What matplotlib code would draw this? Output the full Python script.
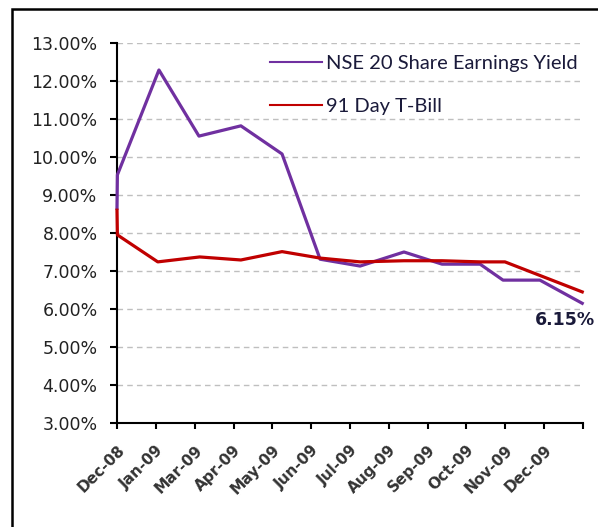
import matplotlib
matplotlib.use("Agg")
import matplotlib.pyplot as plt
from matplotlib.patches import Rectangle
from matplotlib.ticker import FuncFormatter

# positions on the time axis, in tick steps from Dec-08
nse_x = [0.0, 0.01, 1.08, 2.11, 3.19, 4.25, 5.23, 6.26, 7.39, 8.37, 9.35, 9.94, 10.89, 11.98]
nse_yield = [8.65, 9.53, 12.29, 10.55, 10.82, 10.08, 7.31, 7.13, 7.50, 7.18, 7.18, 6.76, 6.76, 6.15]

tbill_x = [0.0, 0.01, 1.05, 2.13, 3.19, 4.25, 5.23, 6.26, 7.39, 8.37, 9.35, 9.99, 11.98]
tbill_rate = [8.60, 7.95, 7.24, 7.37, 7.29, 7.51, 7.34, 7.24, 7.27, 7.27, 7.24, 7.24, 6.45]

month_labels = ["Dec-08", "Jan-09", "Mar-09", "Apr-09", "May-09", "Jun-09",
                "Jul-09", "Aug-09", "Sep-09", "Oct-09", "Nov-09", "Dec-09"]
y_ticks = list(range(3, 14))

purple = "#7030A0"
red = "#C00000"
W, H = 598, 527

fig = plt.figure(figsize=(W / 100, H / 100), dpi=100)
ax = fig.add_axes([117 / W, 1 - 423 / H, (583 - 117) / W, (423 - 43) / H])

ax.plot(nse_x, nse_yield, color=purple, lw=2.3, label="NSE 20 Share Earnings Yield", zorder=4, clip_on=False)
ax.plot(tbill_x, tbill_rate, color=red, lw=2.3, label="91 Day T-Bill", zorder=4, clip_on=False)

ax.set_xlim(0, 12)
ax.set_ylim(3, 13)
ax.set_yticks(y_ticks)
ax.yaxis.set_major_formatter(FuncFormatter(lambda v, p: "%.2f%%" % v))
ax.set_xticks(range(13))
ax.set_xticklabels(month_labels + [""])

for t in ax.get_yticklabels():
    t.set_fontfamily("DejaVu Sans")
    t.set_fontsize(12.5)
    t.set_color("#222222")
for t in ax.get_xticklabels():
    t.set_fontfamily("DejaVu Sans")
    t.set_fontsize(11)
    t.set_fontweight("bold")
    t.set_color("#333333")
    t.set_rotation(45)
    t.set_rotation_mode("anchor")
    t.set_ha("right")
    t.set_va("top")

ax.tick_params(axis="y", length=5, width=1.5, pad=9)
ax.tick_params(axis="x", length=4, width=1.5, pad=10)

for s in ["top", "right"]:
    ax.spines[s].set_visible(False)
for s in ["left", "bottom"]:
    ax.spines[s].set_linewidth(1.5)

for v in y_ticks[1:]:
    ax.axhline(v, color="#BFBFBF", lw=1, dashes=(4, 3), zorder=1)

leg = ax.legend(loc="upper left", bbox_to_anchor=(262 / W, 1 - 47 / H), bbox_transform=fig.transFigure,
                frameon=False, prop={"family": "Lato", "size": 14.5}, handlelength=2.6,
                handletextpad=0.2, labelspacing=1.3, borderaxespad=0)
for h in leg.get_lines():
    h.set_linewidth(1.5)
for t in leg.get_texts():
    t.set_color("#1a1a3a")

ax.annotate("6.15%", xy=(nse_x[-1], nse_yield[-1]), xytext=(-47, -17), textcoords="offset pixels",
            ha="left", va="center", fontfamily="DejaVu Sans", fontweight="bold", fontsize=12.5,
            color="#1a1a3a", annotation_clip=False)

# black frame around the chart, running off the right and bottom edges
fig.patches.append(Rectangle((12 / W, -0.1), 1.2, 1.1 - 9 / H, transform=fig.transFigure,
                             fill=False, edgecolor="black", lw=1.8))

fig.savefig("out.png", dpi=100)
